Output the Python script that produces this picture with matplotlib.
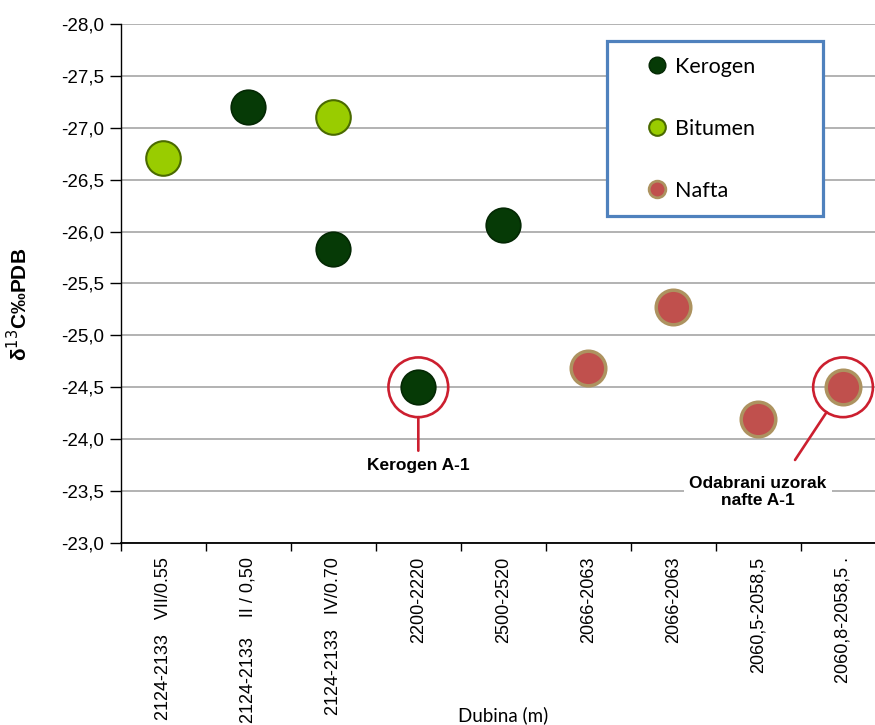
import matplotlib
matplotlib.use("Agg")
import matplotlib.pyplot as plt
from matplotlib.lines import Line2D

plt.rcParams['font.family'] = ['Liberation Sans', 'DejaVu Sans']

categories = ["2124-2133   VII/0.55", "2124-2133    II / 0,50", "2124-2133   IV/0.70",
              "2200-2220", "2500-2520", "2066-2063", "2066-2063",
              "2060,5-2058,5", "2060,8-2058,5 ."]
kerogen_x = [1, 2, 3, 4]
kerogen_y = [-27.2, -25.83, -24.5, -26.06]
bitumen_x = [0, 2]
bitumen_y = [-26.71, -27.1]
nafta_x = [5, 6, 7, 8]
nafta_y = [-24.69, -25.27, -24.19, -24.5]
yticks = [-28.0, -27.5, -27.0, -26.5, -26.0, -25.5, -25.0, -24.5, -24.0, -23.5, -23.0]
highlight_x = [3, 8]
highlight_y = [-24.5, -24.5]

fig = plt.figure(figsize=(8.75, 7.25), dpi=100)
ax = fig.add_axes([0.1383, 0.251, 0.8737, 0.716])

ax.set_xlim(-0.5, len(categories) - 0.5)
ax.set_ylim(-23.0, -28.0)
ax.set_yticks(yticks)
ax.set_yticklabels([f"{v:.1f}".replace('.', ',') for v in yticks], fontsize=13.5)
ax.yaxis.grid(True, color='#a6a6a6', linewidth=1.2)
ax.set_axisbelow(True)
for s in ['top', 'right']:
    ax.spines[s].set_visible(False)
ax.spines['left'].set_linewidth(1.0)
ax.spines['bottom'].set_linewidth(1.3)
ax.tick_params(axis='y', length=8, width=1, direction='out', pad=4)

ax.set_xticks(range(len(categories)))
ax.set_xticklabels(categories, rotation=90, fontsize=13)
ax.tick_params(axis='x', length=0, pad=10)
ax.set_xticks([i - 0.5 for i in range(len(categories) + 1)], minor=True)
ax.tick_params(axis='x', which='minor', length=6, width=1, direction='out')

kcol, kedge = '#063a06', '#042804'
bcol, bedge = '#99cc00', '#4a6a00'
ncol, nedge = '#c0504d', '#ad9360'

ax.scatter(kerogen_x, kerogen_y, s=620, c=kcol, edgecolors=kedge, linewidths=1.2, zorder=3)
ax.scatter(bitumen_x, bitumen_y, s=620, c=bcol, edgecolors=bedge, linewidths=1.5, zorder=3)
ax.scatter(nafta_x, nafta_y, s=620, c=ncol, edgecolors=nedge, linewidths=2.5, zorder=3)

red = '#cc1f2f'
ax.scatter(highlight_x, highlight_y, s=1850, facecolors='none', edgecolors=red, linewidths=1.9, zorder=4)

ax.annotate("Kerogen A-1", xy=(highlight_x[0], highlight_y[0]), xytext=(3, -23.75),
            ha='center', va='center', fontsize=12.5, fontweight='bold',
            arrowprops=dict(arrowstyle='-', color=red, lw=1.9, shrinkA=3, shrinkB=21.5),
            zorder=5)
ax.text(7.0, -23.49, "Odabrani uzorak\nnafte A-1",
        ha='center', va='center', fontsize=12.5, fontweight='bold', linespacing=1.2,
        bbox=dict(boxstyle='square,pad=0.3', fc='white', ec='none'), zorder=5)
ax.annotate("", xy=(highlight_x[1], highlight_y[1]), xytext=(7.435, -23.80),
            arrowprops=dict(arrowstyle='-', color=red, lw=1.9, shrinkA=0, shrinkB=21.5),
            zorder=5)

ax.set_ylabel(r"δ$^{13}$C‰PDB", fontsize=15, fontweight='bold')
ax.yaxis.set_label_coords(-0.118, 0.459)
ax.set_xlabel("Dubina (m)", fontsize=13.5, family=['Lato', 'DejaVu Sans'])
ax.xaxis.set_label_coords(0.5, -0.315)

handles = [Line2D([], [], marker='o', linestyle='none', markersize=12, markerfacecolor=kcol, markeredgecolor=kedge),
           Line2D([], [], marker='o', linestyle='none', markersize=12, markerfacecolor=bcol, markeredgecolor=bedge, markeredgewidth=1.5),
           Line2D([], [], marker='o', linestyle='none', markersize=12, markerfacecolor=ncol, markeredgecolor=nedge, markeredgewidth=2)]
leg = ax.legend(handles, ["Kerogen", "Bitumen", "Nafta"], loc='upper left',
                bbox_to_anchor=(0.636, 0.634, 0.282, 0.333), mode='expand',
                prop={'family': ['Lato', 'DejaVu Sans'], 'size': 15.5},
                frameon=True, fancybox=False, borderpad=0.72, labelspacing=1.95,
                handlelength=3.19, handletextpad=-0.76, borderaxespad=0)
leg.get_frame().set_edgecolor('#4f81bd')
leg.get_frame().set_linewidth(2.3)
leg.get_frame().set_alpha(1)

fig.savefig("out.png", dpi=100)
